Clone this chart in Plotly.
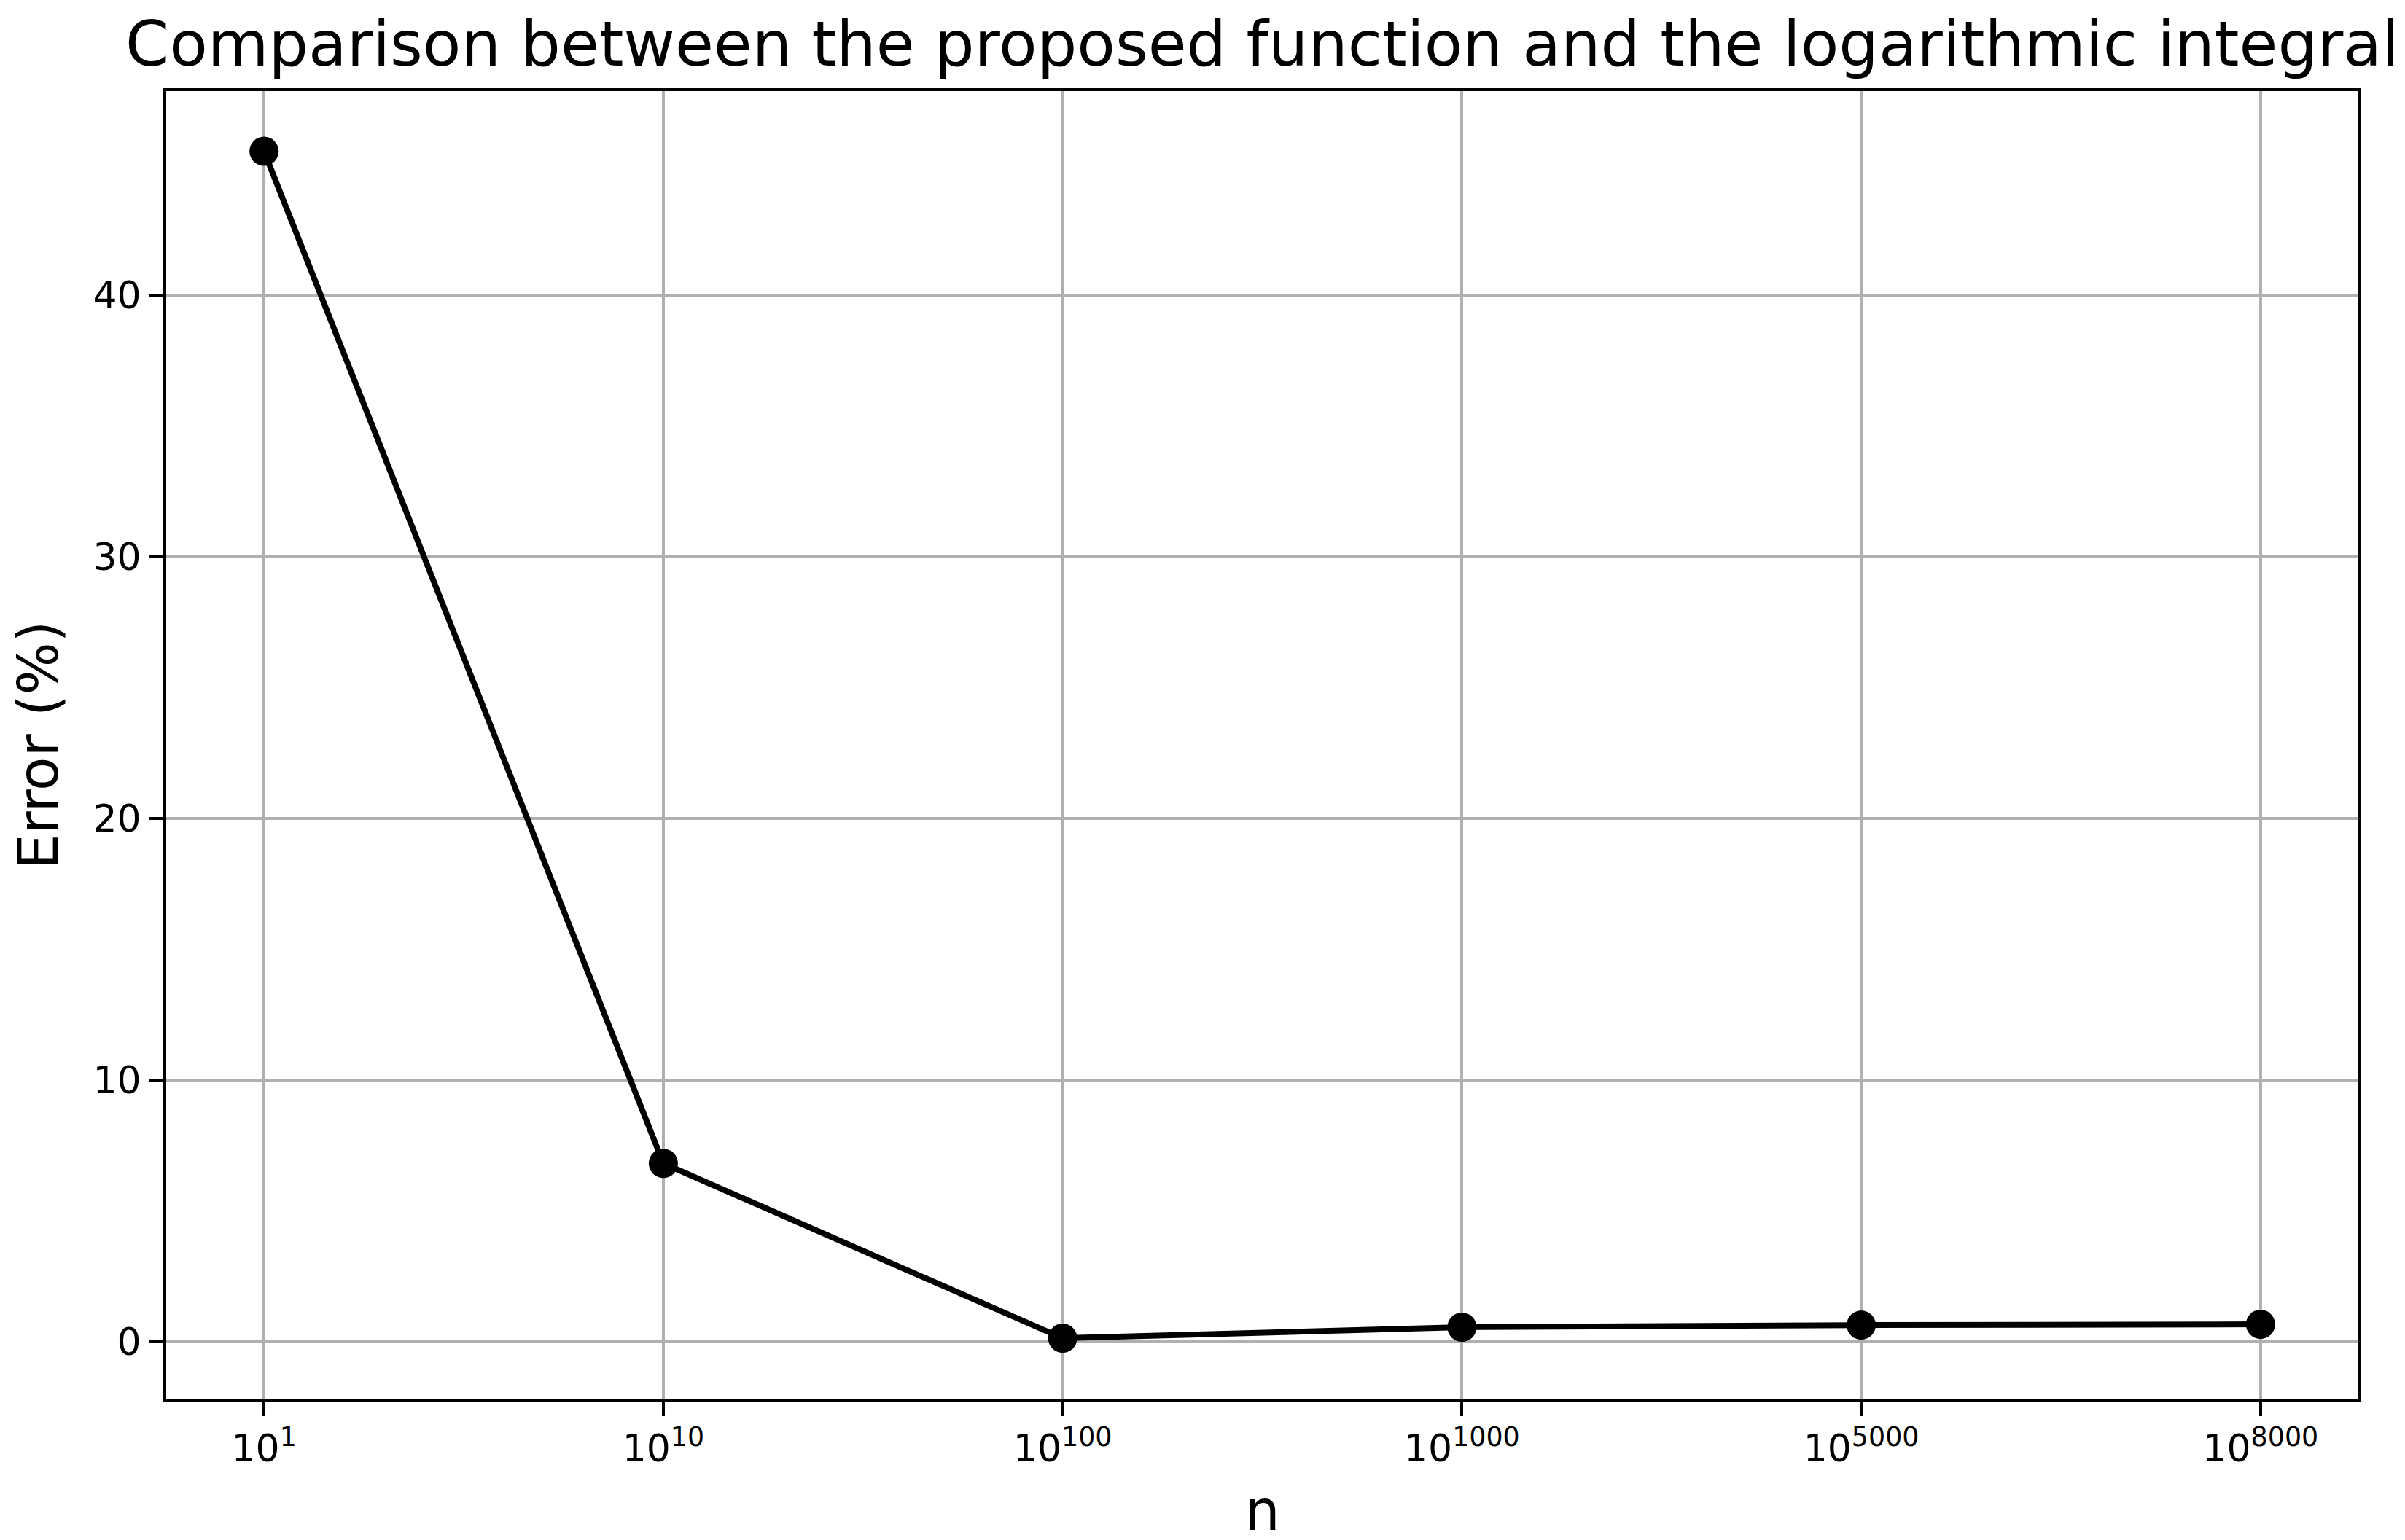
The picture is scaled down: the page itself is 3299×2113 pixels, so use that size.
import plotly.graph_objects as go

# n values (shown as powers of ten) and relative error in percent
exponents = ["1", "10", "100", "1000", "5000", "8000"]
error_pct = [45.5, 6.82, 0.14, 0.56, 0.64, 0.67]

y_ticks = [0, 10, 20, 30, 40]

categories = ["10<sup>%s</sup>" % e for e in exponents]

FONT = "DejaVu Sans"

fig = go.Figure()
fig.add_trace(go.Scatter(
    x=categories,
    y=error_pct,
    mode="lines+markers",
    line=dict(color="black", width=8),
    marker=dict(color="black", size=40),
    showlegend=False,
))

fig.update_layout(
    width=3299,
    height=2113,
    margin=dict(l=220, r=72, t=117, b=202),
    paper_bgcolor="white",
    plot_bgcolor="white",
    font=dict(family=FONT, color="black", size=52),
    title=dict(
        text="Comparison between the proposed function and the logarithmic integral",
        font=dict(family=FONT, size=86, color="black"),
        x=0.5, xref="paper", xanchor="center",
        y=1 - 52 / 2113, yref="container", yanchor="middle",
    ),
)

fig.update_xaxes(
    type="category",
    range=[-0.245, 5.245],
    showgrid=True, gridcolor="#b0b0b0", gridwidth=3.5,
    showline=True, linecolor="black", linewidth=4, mirror=True,
    ticks="outside", ticklen=20, tickwidth=3.5, tickcolor="black",
    tickfont=dict(size=52),
    title=dict(text="n", font=dict(size=76), standoff=30),
    zeroline=False,
)
fig.update_yaxes(
    range=[-2.17, 47.8],
    tickvals=y_ticks,
    showgrid=True, gridcolor="#b0b0b0", gridwidth=3.5,
    showline=True, linecolor="black", linewidth=4, mirror=True,
    ticks="outside", ticklen=20, tickwidth=3.5, tickcolor="black",
    tickfont=dict(size=52),
    title=dict(text="Error (%)", font=dict(size=76), standoff=30),
    zeroline=False,
)

fig.write_html("out.html")
